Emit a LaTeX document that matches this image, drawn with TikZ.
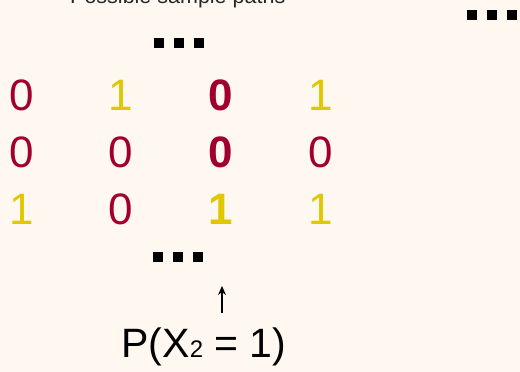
\documentclass[tikz,border=0pt]{standalone}
\usepackage{fontspec}
\setmainfont{Liberation Sans}
\usetikzlibrary{arrows.meta}
\definecolor{paper}{HTML}{FFF8F0}
\definecolor{stateZero}{HTML}{A0002A}
\definecolor{stateOne}{HTML}{E0C800}
\begin{document}
\begin{tikzpicture}[x=1pt,y=-1pt,
  digit/.style={anchor=base,inner sep=0pt,font=\fontsize{44}{44}\selectfont},
  zero/.style={digit,text=stateZero},
  one/.style={digit,text=stateOne},
  focus/.style={font=\fontsize{44}{44}\selectfont\bfseries},
  dotsq/.style={fill=black},
]
\useasboundingbox[fill=paper] (0,0) rectangle (520,372);
\clip (0,0) rectangle (520,372);

% heading (runs off the top edge)
\node[anchor=base west,inner sep=0pt,font=\fontsize{21.5}{21.5}\selectfont,text=black!85] (head) at (70,3) {Possible sample paths};

% ellipsis marks
\foreach \x in {467,487,507} \fill[dotsq] (\x,10) rectangle ++(9.5,9.5);
\foreach \x in {154,174,194} \fill[dotsq] (\x,38) rectangle ++(10,10);
\foreach \x in {153,173,193} \fill[dotsq] (\x,252) rectangle ++(10,9.5);

% sample paths: one row per path, one column per time step
\node[zero] (a0) at (22,110) {0};
\node[one]  (a1) at (121,110) {1};
\node[zero,focus] (a2) at (221,110) {0};
\node[one]  (a3) at (321,110) {1};

\node[zero] (b0) at (22,167) {0};
\node[zero] (b1) at (121,167) {0};
\node[zero,focus] (b2) at (221,167) {0};
\node[zero] (b3) at (321,167) {0};

\node[one]  (c0) at (22,224) {1};
\node[zero] (c1) at (121,224) {0};
\node[one,focus]  (c2) at (221,224) {1};
\node[one]  (c3) at (321,224) {1};

% probability label and pointer
\node[anchor=base,inner sep=0pt,font=\fontsize{41}{41}\selectfont] (prob) at (204,357)
  {P(X{\fontsize{24}{24}\selectfont 2} = 1)};
\coordinate (tip) at (222,286);
\coordinate (foot) at (222,313);
\draw[line width=1.3pt,-{Stealth[length=9pt,width=8pt]}] (foot) -- (tip);
\end{tikzpicture}
\end{document}
